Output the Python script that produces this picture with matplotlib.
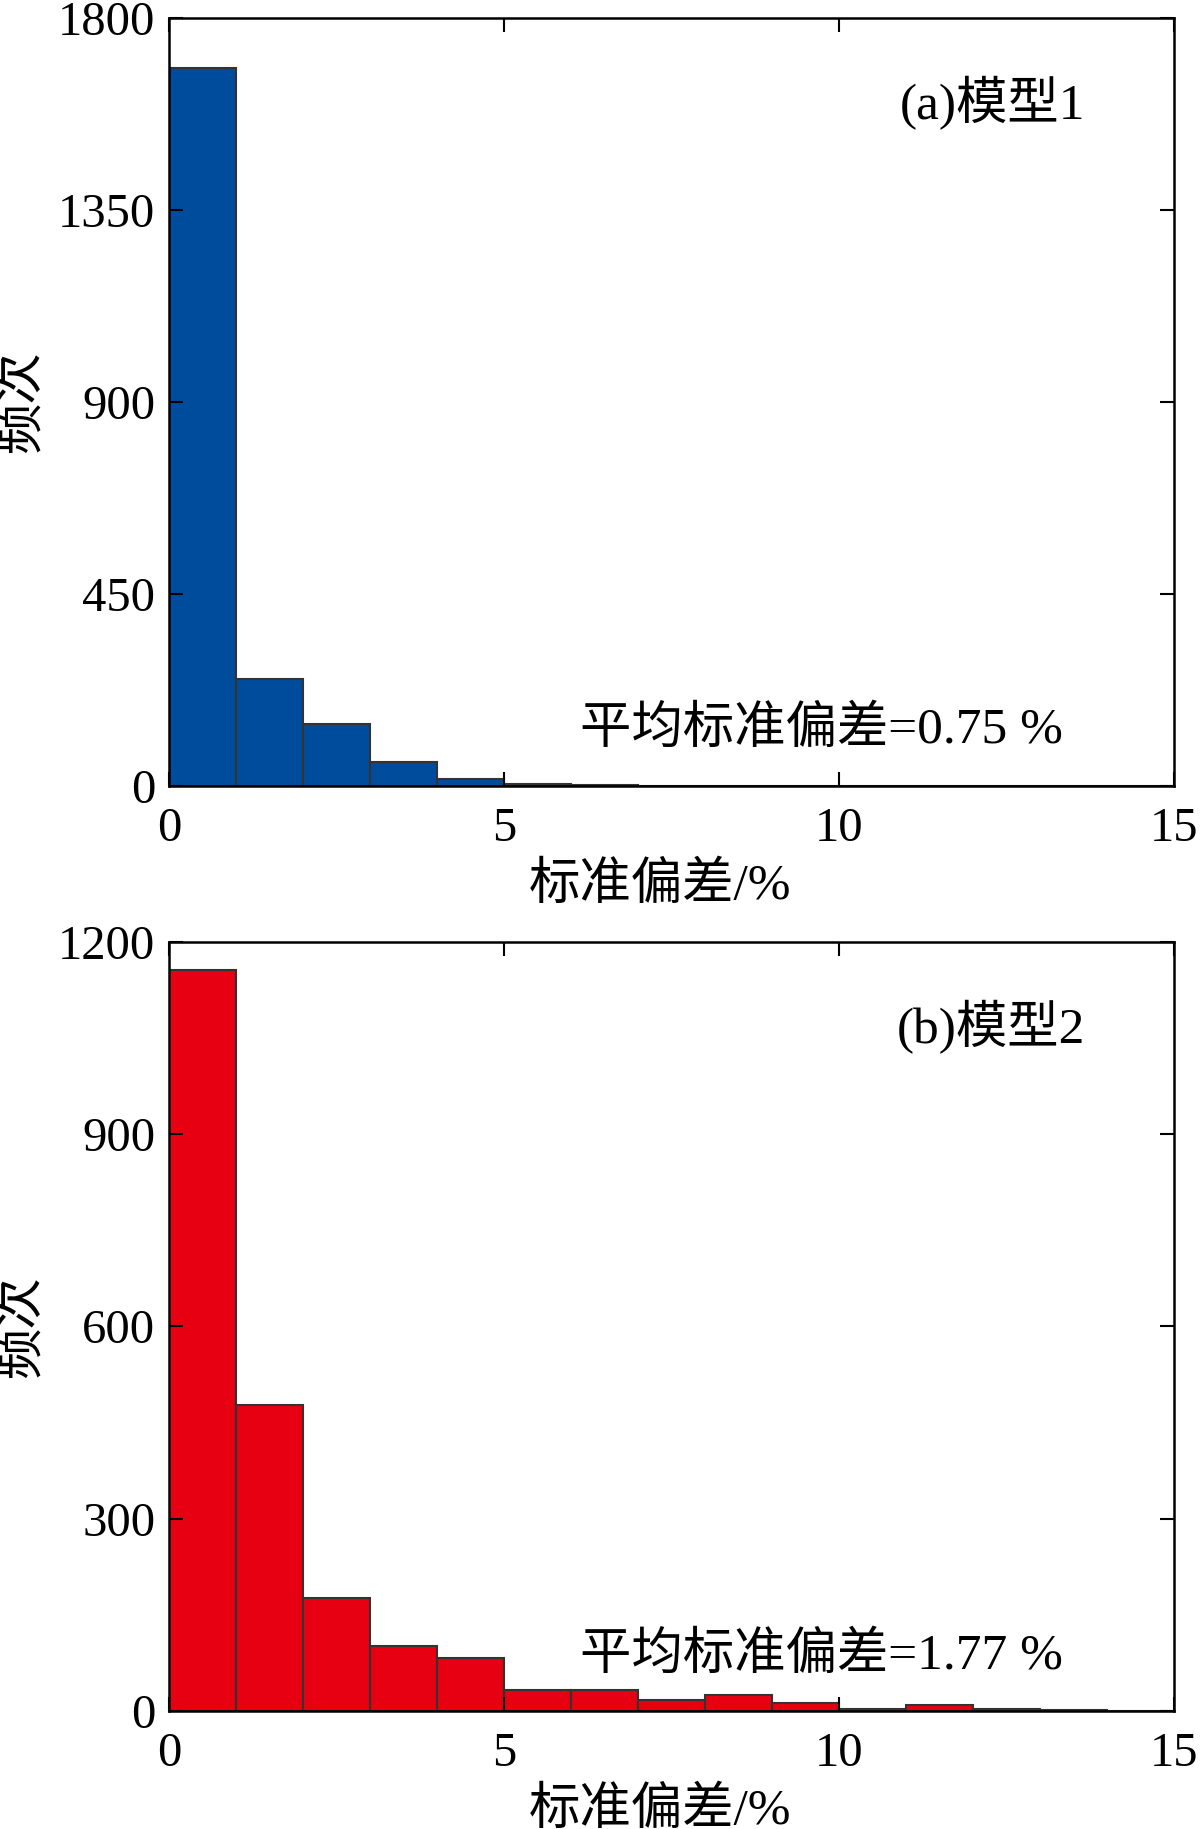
import numpy as np
import matplotlib
matplotlib.use('Agg')
import matplotlib.pyplot as plt

plt.rcParams['font.family'] = ['Liberation Serif', 'Noto Sans CJK SC']
plt.rcParams['axes.unicode_minus'] = False

# bin left edges (standard deviation, %) and counts
bins = np.arange(0, 15)
counts_a = [1682, 250, 144, 55, 17, 5, 3, 0, 0, 0, 0, 0, 0, 0, 0]
counts_b = [1156, 477, 176, 101, 82, 33, 33, 17, 25, 13, 3, 9, 3, 1, 0]

labels = ['(a)模型1', '(b)模型2']
means = ['平均标准偏差=0.75 %', '平均标准偏差=1.77 %']
colors = ['#004c9c', '#e60012']
yticks = [[0, 450, 900, 1350, 1800], [0, 300, 600, 900, 1200]]
xticks = [0, 5, 10, 15]

fig = plt.figure(figsize=(12, 18.29), dpi=100)
ax1 = fig.add_axes([0.141, 0.5703, 0.837, 0.4201])
ax2 = fig.add_axes([0.141, 0.0645, 0.837, 0.4205])

for ax, counts, lab, m, c, yt in zip([ax1, ax2], [counts_a, counts_b], labels, means, colors, yticks):
    ax.bar(bins, counts, width=1, align='edge', color=c, edgecolor='#333333', linewidth=1.5)
    ax.set_xlim(0, 15)
    ax.set_ylim(0, yt[-1])
    ax.set_xticks(xticks)
    ax.set_yticks(yt)
    ax.tick_params(direction='in', length=10, width=1.5, top=True, right=True,
                   labelsize=35)
    ax.tick_params(axis='x', pad=15)
    ax.tick_params(axis='y', pad=10)
    for s in ax.spines.values():
        s.set_linewidth(1.8)
    ax.set_xlabel('标准偏差/%', fontsize=37, labelpad=4)
    ax.xaxis.set_label_coords(0.489, -0.1)
    ax.set_ylabel('频次', fontsize=37, labelpad=8)
    ax.text(0.912, 0.889, lab, transform=ax.transAxes, fontsize=37, ha='right', va='center')
    ax.text(0.89, 0.072, m, transform=ax.transAxes, fontsize=37, ha='right', va='center')

fig.savefig('out.png', dpi=100)
